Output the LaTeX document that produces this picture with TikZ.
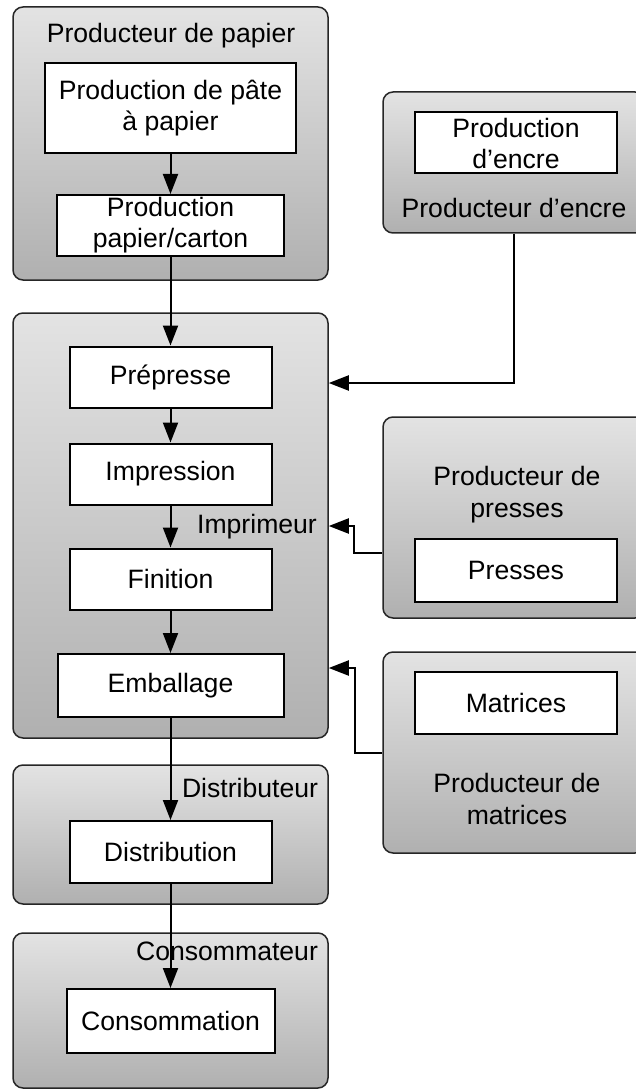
\documentclass[tikz,border=0pt]{standalone}
\usepackage{fontspec}
\setmainfont{Liberation Sans}
\usetikzlibrary{arrows.meta, positioning, fit}

\begin{document}
\begin{tikzpicture}[
    x=0.5pt, y=-0.5pt,
    grp/.style={
      rectangle, rounded corners=5pt, draw=black!85, line width=0.75pt,
      top color=gray!22, bottom color=gray!62, inner sep=0pt
    },
    box/.style={
      rectangle, draw=black, fill=white, line width=1pt, inner sep=0pt,
      minimum width=101pt, minimum height=30.5pt,
      align=center, font=\fontsize{13.3}{15.5}\selectfont
    },
    lbl/.style={font=\fontsize{13.3}{16}\selectfont, align=center, inner sep=0pt},
    arr/.style={-{Triangle[length=10pt,width=7.5pt]}, line width=1pt}
  ]

  \useasboundingbox (0,0) rectangle (636,1091);
  \clip (0,0) rectangle (636,1091);

  % Groups (actors)
  \node[grp, fit={(13,7) (328,280)}]    (gpap)   {};
  \node[grp, fit={(13,313) (328,738)}]  (gimp)   {};
  \node[grp, fit={(13,765) (328,904)}]  (gdist)  {};
  \node[grp, fit={(13,933) (328,1088)}] (gcons)  {};
  \node[grp, fit={(383,92) (645,233)}]  (gencre) {};
  \node[grp, fit={(383,417) (645,618)}] (gpress) {};
  \node[grp, fit={(383,652) (645,853)}] (gmat)   {};

  % Group titles
  \node[lbl, anchor=base] (tpap)   at (171,43)  {Producteur de papier};
  \node[lbl, anchor=base] (tencre) at (514,218) {Producteur d’encre};
  \node[lbl, anchor=base] (timp)   at (257,533) {Imprimeur};
  \node[lbl] (tpress) at (517,495) {Producteur de\\presses};
  \node[lbl] (tmat)   at (517,799) {Producteur de\\matrices};
  \node[lbl, anchor=base] (tdist)  at (250,797) {Distributeur};
  \node[lbl, anchor=base] (tcons)  at (227,960) {Consommateur};

  % Activities
  \node[box, minimum width=125.5pt, minimum height=45pt] (pate) at (170.5,108)
    {Production de pâte\\à papier};
  \node[box, minimum width=113.5pt] (papier) at (170.5,225.5)
    {Production\\papier/carton};
  \node[box] (prep)  at (170.5,377)  {Prépresse};
  \node[box] (impr)  at (170.5,474)  {Impression};
  \node[box] (fini)  at (170.5,579)  {Finition};
  \node[box, minimum width=113pt, minimum height=31.5pt] (emb) at (170.5,685.5) {Emballage};
  \node[box, minimum height=31pt] (distr) at (170.5,852) {Distribution};
  \node[box, minimum width=104pt, minimum height=32pt] (conso) at (170.5,1021) {Consommation};
  \node[box] (encre) at (516,143) {Production\\d’encre};
  \node[box, minimum height=31.5pt] (presses) at (516,570.5) {Presses};
  \node[box, minimum height=31pt] (matr) at (516,703) {Matrices};

  % Main flow
  \draw[arr] (pate)   -- (papier);
  \draw[arr] (papier) -- (prep);
  \draw[arr] (prep)   -- (impr);
  \draw[arr] (impr)   -- (fini);
  \draw[arr] (fini)   -- (emb);
  \draw[arr] (emb)    -- (distr);
  \draw[arr] (distr)  -- (conso);

  % Suppliers into the printer
  \coordinate (yink)  at (0,383);
  \coordinate (ypin)  at (0,526);
  \coordinate (ypout) at (0,553);
  \coordinate (ymin)  at (0,668);
  \coordinate (ymout) at (0,753);
  \draw[arr] (gencre.south) |- (gimp.east |- yink);
  \draw[arr] (gpress.west |- ypout) -- ++(-28,0) |- (gimp.east |- ypin);
  \draw[arr] (gmat.west |- ymout) -- ++(-27,0) |- (gimp.east |- ymin);

\end{tikzpicture}
\end{document}
